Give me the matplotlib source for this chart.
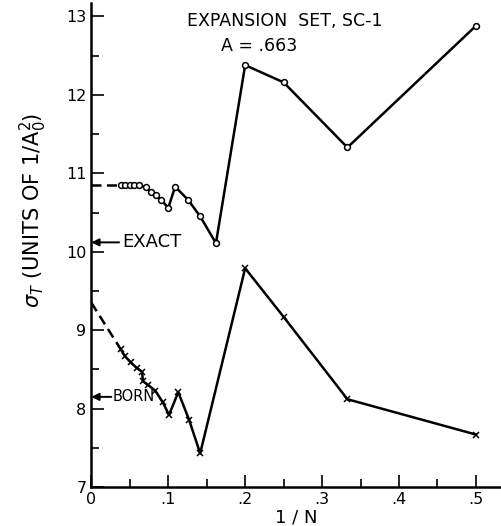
import matplotlib
matplotlib.use("Agg")
import matplotlib.pyplot as plt
from matplotlib.ticker import MultipleLocator

# Expansion-set cross sections versus 1/N
inv_n_exact = [0.038, 0.0435, 0.050, 0.056, 0.0625, 0.071, 0.0775, 0.084,
               0.091, 0.100, 0.109, 0.126, 0.1416, 0.162, 0.200, 0.250,
               0.333, 0.500]
sigma_exact = [10.85, 10.85, 10.85, 10.85, 10.85, 10.82, 10.76, 10.72,
               10.66, 10.56, 10.83, 10.66, 10.45, 10.11, 12.38, 12.16,
               11.33, 12.88]
exact_limit = 10.85

inv_n_born = [0.038, 0.0436, 0.051, 0.0588, 0.066, 0.067, 0.074, 0.083,
              0.093, 0.101, 0.113, 0.127, 0.1415, 0.200, 0.250, 0.333, 0.500]
sigma_born = [8.76, 8.67, 8.59, 8.52, 8.47, 8.35, 8.30, 8.23,
              8.08, 7.92, 8.21, 7.86, 7.43, 9.79, 9.17, 8.12, 7.67]
born_limit = 9.35

exact_ref = 10.12
born_ref = 8.15

x_ticks = [0, 0.1, 0.2, 0.3, 0.4, 0.5]
x_tick_labels = ["0", ".1", ".2", ".3", ".4", ".5"]
y_ticks = [7, 8, 9, 10, 11, 12, 13]

fig = plt.figure(figsize=(5.02, 5.26), dpi=100)
ax = fig.add_axes([0.182, 0.074, 0.818, 0.920])

lw = 1.8
# extrapolations to 1/N = 0
ax.plot([0, inv_n_exact[0]], [exact_limit, sigma_exact[0]], color="black",
        lw=lw, dashes=(4, 2.2))
ax.plot([0, inv_n_born[0]], [born_limit, sigma_born[0]], color="black",
        lw=lw, dashes=(4, 2.2))

ax.plot(inv_n_exact, sigma_exact, color="black", lw=lw, marker="o",
        markersize=4.2, markerfacecolor="white", markeredgecolor="black",
        markeredgewidth=1.1)
ax.plot(inv_n_born, sigma_born, color="black", lw=lw, marker="x",
        markersize=5, markeredgewidth=1.1)

# reference values marked on the axis
ax.annotate("", xy=(0.0, exact_ref), xytext=(0.036, exact_ref),
            arrowprops=dict(arrowstyle="-|>", color="black", lw=1.4,
                            mutation_scale=11, shrinkA=0, shrinkB=0))
ax.annotate("", xy=(0.0, born_ref), xytext=(0.026, born_ref),
            arrowprops=dict(arrowstyle="-|>", color="black", lw=1.4,
                            mutation_scale=11, shrinkA=0, shrinkB=0))
ax.text(0.040, exact_ref, "EXACT", fontsize=13, va="center", ha="left")
ax.text(0.027, born_ref, "BORN", fontsize=10.5, va="center", ha="left")

ax.text(0.252, 12.94, "EXPANSION  SET, SC-1", fontsize=12.5, ha="center",
        va="center")
ax.text(0.218, 12.62, "A = .663", fontsize=12.5, ha="center", va="center")

ax.set_xlim(0, 0.534)
ax.set_ylim(7, 13.17)
ax.set_xticks(x_ticks)
ax.set_xticklabels(x_tick_labels)
ax.set_yticks(y_ticks)
ax.xaxis.set_minor_locator(MultipleLocator(0.05))
ax.yaxis.set_minor_locator(MultipleLocator(0.5))
ax.tick_params(which="both", direction="in", width=1.2, labelsize=11.5,
               top=False, right=False)
ax.tick_params(which="major", length=9)
ax.tick_params(which="minor", length=6)
for side in ("top", "right"):
    ax.spines[side].set_visible(False)
for side in ("left", "bottom"):
    ax.spines[side].set_linewidth(1.8)

ax.set_xlabel("1 / N", fontsize=13, labelpad=1)
fig.text(33 / 502, 1 - 210 / 526, r"$\sigma_T$ (UNITS OF 1/A$_0^2$)",
         fontsize=15, rotation=90, ha="center", va="center")

fig.savefig("out.png", dpi=100)
